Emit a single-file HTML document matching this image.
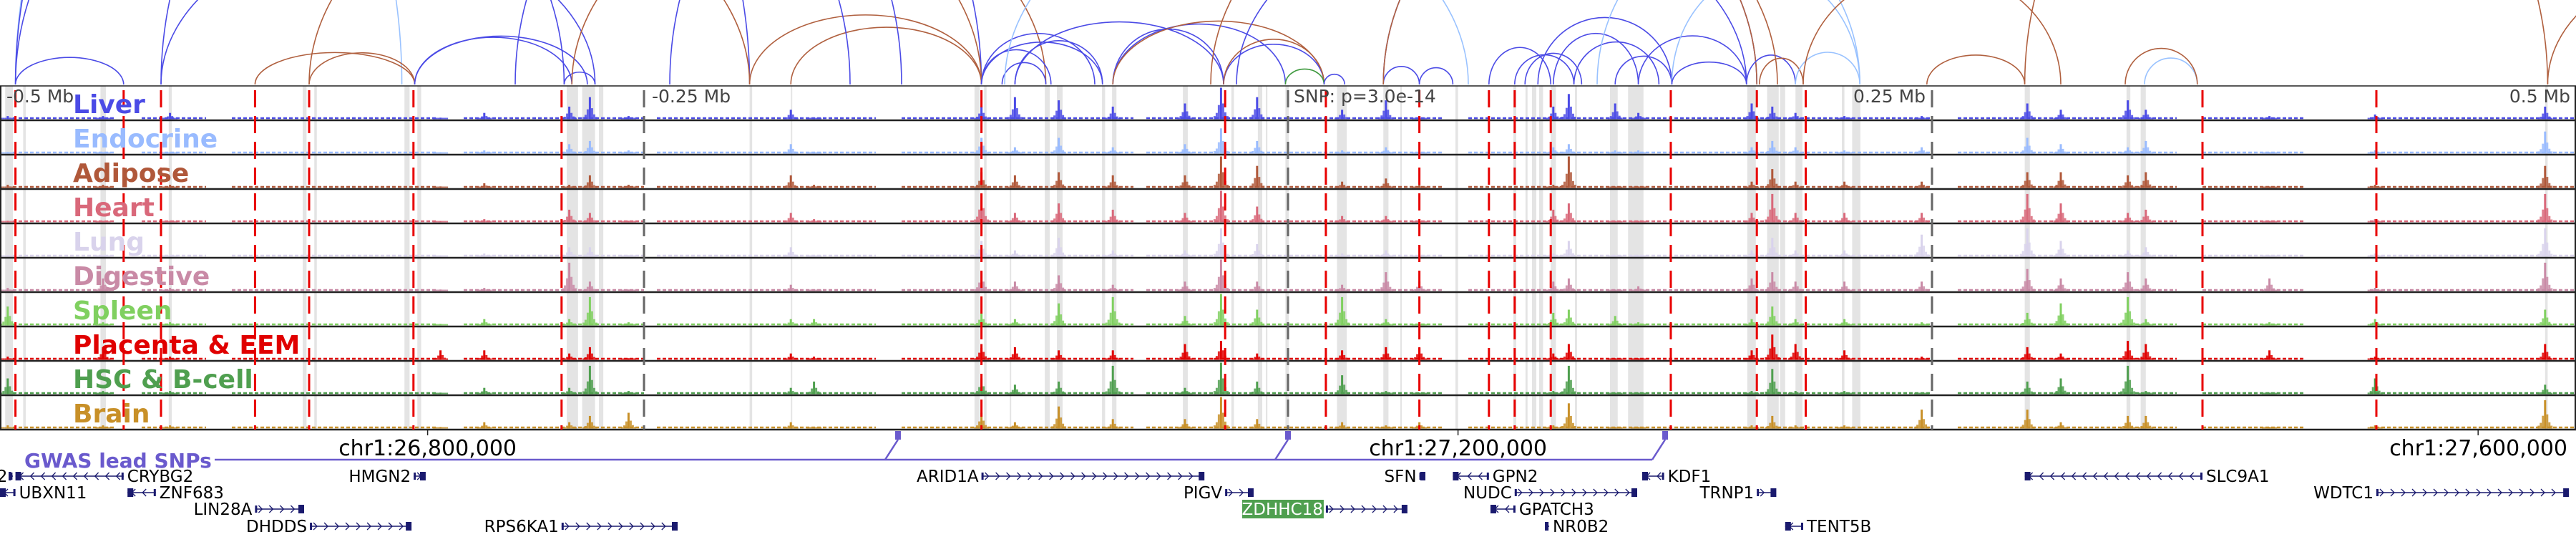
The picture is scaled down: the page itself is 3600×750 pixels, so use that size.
<!DOCTYPE html>
<html><head><meta charset="utf-8">
<style>
html,body{margin:0;padding:0;background:#fff;}
svg{display:block;}
text{font-family:"DejaVu Sans","Liberation Sans",sans-serif;}
</style></head>
<body>
<svg id="fig" width="3600" height="750" viewBox="0 0 3600 750" xmlns="http://www.w3.org/2000/svg">
<g id="bands"></g>
<g id="arcs"></g>
<g id="tracks"></g>
<g id="vlines"></g>
<g id="labels"></g>
<g id="axis"></g>
<g id="genes"></g>
</svg>
<script>
// ---- data (positions in kb relative to lead SNP) ----
const tissues = ["Liver","Endocrine","Adipose","Heart","Lung","Digestive","Spleen","Placenta & EEM","HSC & B-cell","Brain"];
const tissueColors = ["#4b4be6","#99bbff","#b0583a","#d9687a","#d9d3ec","#c98aa6","#80d060","#e00000","#4f9f4f","#c89028"];
const peakPos = [-497,-460,-434,-329,-312,-279,-271,-256,-193,-184,-119,-106,-89,-68,-40,-26,-12,21,38,51,103,109,127,136,180,188,197,216,246,287,300,326,333,381,422,488];
const peakVals = [
 [0.1,0.05,0.1,0.05,0.05,0.1,0.6,0.1,0.5,0.1],
 [0.1,0.05,0.1,0.05,0.05,0.4,0.1,0.4,0.1,0.1],
 [0.2,0.05,0.1,0.05,0.05,0.1,0.1,0.1,0.1,0.1],
 [0.05,0.02,0.05,0.02,0.02,0.05,0.05,0.3,0.05,0.05],
 [0.2,0.1,0.15,0.1,0.1,0.1,0.2,0.3,0.2,0.2],
 [0.4,0.3,0.1,0.4,0.3,0.9,0.2,0.2,0.2,0.2],
 [0.7,0.4,0.4,0.3,0.3,0.3,0.9,0.4,0.9,0.4],
 [0.1,0.1,0.1,0.05,0.05,0.05,0.1,0.05,0.1,0.5],
 [0.3,0.3,0.4,0.3,0.3,0.2,0.2,0.2,0.2,0.2],
 [0.02,0.02,0.1,0.1,0.02,0.05,0.2,0.1,0.4,0.05],
 [0.4,0.5,0.5,0.9,0.5,0.6,0.4,0.5,0.5,0.5],
 [0.7,0.2,0.4,0.3,0.2,0.3,0.2,0.4,0.3,0.2],
 [0.6,0.5,0.5,0.6,0.6,0.5,0.7,0.3,0.4,0.7],
 [0.4,0.2,0.4,0.4,0.2,0.2,0.9,0.3,0.9,0.3],
 [0.5,0.3,0.4,0.3,0.2,0.3,0.3,0.5,0.2,0.3],
 [1.0,0.8,1.0,1.0,0.9,1.0,1.0,0.6,1.0,1.0],
 [0.7,0.4,0.7,0.5,0.4,0.3,0.5,0.2,0.4,0.3],
 [0.3,0.1,0.2,0.2,0.1,0.2,0.9,0.3,0.6,0.2],
 [0.6,0.2,0.3,0.2,0.2,0.6,0.2,0.4,0.1,0.1],
 [0.1,0.05,0.1,0.05,0.05,0.3,0.05,0.4,0.05,0.2],
 [0.4,0.2,0.1,0.4,0.1,0.3,0.4,0.2,0.1,0.1],
 [0.8,0.3,1.0,0.6,0.5,0.4,0.5,0.5,0.9,0.8],
 [0.5,0.1,0.05,0.05,0.05,0.05,0.3,0.05,0.05,0.05],
 [0.2,0.1,0.05,0.05,0.05,0.15,0.1,0.05,0.05,0.05],
 [0.5,0.2,0.2,0.3,0.2,0.4,0.2,0.3,0.1,0.1],
 [0.4,0.4,0.6,0.9,0.6,0.6,0.6,0.8,0.8,0.4],
 [0.2,0.2,0.2,0.3,0.2,0.3,0.2,0.5,0.1,0.1],
 [0.1,0.1,0.2,0.3,0.2,0.3,0.2,0.3,0.1,0.1],
 [0.1,0.2,0.2,0.3,0.7,0.3,0.1,0.1,0.05,0.6],
 [0.5,0.5,0.5,0.9,0.9,0.7,0.4,0.4,0.4,0.6],
 [0.3,0.3,0.5,0.6,0.5,0.4,0.7,0.2,0.5,0.2],
 [0.6,0.2,0.4,0.3,0.2,0.6,0.9,0.6,0.9,0.4],
 [0.3,0.4,0.5,0.4,0.3,0.4,0.2,0.5,0.1,0.4],
 [0.1,0.05,0.05,0.05,0.05,0.4,0.1,0.3,0.05,0.05],
 [0.15,0.1,0.1,0.1,0.1,0.1,0.2,0.1,0.5,0.1],
 [0.4,0.7,0.7,0.9,0.9,0.9,0.5,0.5,0.3,0.9]
];
const bgStart = [-495,-445,-410,-320,-245,-150,-55,70,260,355,420];
const bgEnd   = [-455,-420,-330,-250,-160,-60,60,250,345,395,500];
const redLines = [-494,-452,-437.5,-401,-380,-339.5,-282,-119,-24.4,14.7,51,78,88,102,148.6,182,201,355,422.5];
const grayLines = [-250,0,250];
const bandStart = [-498,-491,-461,-434.5,-382.5,-378,-343,-338,-280,-274,-267.5,-209,-193,-121.7,-118,-108,-94.4,-89.7,-72.2,-68.3,-40.8,-22,-11.7,-1,-8.6,19,37,43.6,65,87.5,92.2,94.7,97.5,102,111.4,125,132,178.3,186,191,197,215,219,286,325.5,331,488];
const bandEnd   = [-495,-490,-458.9,-433.3,-381,-377,-341,-336.5,-275.6,-269,-265.8,-208,-192.5,-119.7,-117,-107.5,-92.5,-87.5,-71,-66.6,-38.9,-21,-10,0.3,-8,22.8,39,44.2,66,88.6,93,96.4,99,104,112.2,128,138,181.6,190.5,193,199.7,216,222.2,288,327,333,489];
const tickPos = [-334,66,462];
const tickLabels = ["chr1:26,800,000","chr1:27,200,000","chr1:27,600,000"];
const gwasPos = [-151.4,0,146.4];
const arcStart = [-494,-494,-494,-494,-437.5,-437.5,-401,-380,-380,-339,-339,-281,-278,-209,-193,-520,-119,-119,-119,-111,-106,-106,-68,-68,-68,-25,-25,-1,14,37,37,37,51,78,88,92,97,103,111,127,136,149,149,178,183,197,120,200,-30,-20,286,248,332.5,325,489,-300,-240,-110];
const arcEnd   = [-452,-281,-344,-209,-269,-119,-339,-339,-119,-278,-272,-269,-94,-119,-119,-209,-92,-75,-72,-94,-72,-25,-25,-1,14,14,14,14,22,51,182,182,64,102,111,114,149,136,144,149,178,222,178,197,200,222,222,300,190,178,489,286,353,353,600,-170,-150,70];
const arcColor = ["B","B","L","B","B","B","R","R","R","B","B","B","R","R","R","R","B","B","B","B","B","B","B","B","R","B","R","G","B","B","B","R","B","B","B","B","B","B","B","B","B","L","B","B","R","L","L","R","R","B","R","R","L","R","R","B","B","L"];
const arcScore = [0.25,0.5,0.9,0.6,0.35,0.5,0.2,0.3,0.35,0.3,0.28,0.4,0.4,0.3,0.3,0.3,0.5,0.45,0.35,0.5,0.5,0.3,0.5,0.35,0.3,0.4,0.45,0.4,0.5,0.5,0.55,0.55,0.5,0.6,0.5,0.55,0.5,0.6,0.5,0.5,0.45,0.6,0.3,0.6,0.6,0.5,0.6,0.45,0.4,0.35,0.6,0.3,0.5,0.5,0.4,0.7,0.9,0.4];
const geneNames = ["CD52","CRYBG2","HMGN2","ARID1A","SFN","GPN2","KDF1","SLC9A1","UBXN11","ZNF683","PIGV","NUDC","TRNP1","WDTC1","LIN28A","ZDHHC18","GPATCH3","DHDDS","RPS6KA1","NR0B2","TENT5B"];
const geneStart = [-496,-494,-339.4,-119,51,64,137.5,286,-500,-450.5,-24.4,88,182,422.5,-401,14.7,78.6,-379.7,-282,100,193];
const geneEnd   = [-495,-452,-335.3,-33,53,78,146,355,-494,-439.5,-13.9,135,189,496.7,-382.5,45.8,88.3,-340.8,-237.5,101.4,200];
const geneRow   = [0,0,0,0,0,0,0,0,1,1,1,1,1,1,2,2,2,3,3,3,3];
const geneStrand= [1,-1,1,1,1,-1,-1,-1,-1,-1,1,1,1,1,1,1,-1,1,1,1,-1];
const geneLabelSide = ["L","R","L","L","L","R","R","R","R","R","L","L","L","L","L","L","R","L","L","R","R"];

// ---- layout ----
const NS="http://www.w3.org/2000/svg";
const X = kb => (kb+500)*3.6;
const TOP=120, TH=48, NT=10, BOT=TOP+TH*NT;
function mk(tag, attrs, parent){const e=document.createElementNS(NS,tag);for(const k in attrs)e.setAttribute(k,attrs[k]);parent.appendChild(e);return e;}
const gB=document.getElementById('bands'), gA=document.getElementById('arcs'), gT=document.getElementById('tracks'),
      gV=document.getElementById('vlines'), gL=document.getElementById('labels'), gX=document.getElementById('axis'), gG=document.getElementById('genes');

bandStart.forEach((s,i)=>{
  const r=mk('rect',{x:X(s),y:TOP,width:Math.max(2,X(bandEnd[i])-X(s)),height:BOT-TOP,fill:'#e4e4e4'},gB);
  
  
});

const arcCols={B:'#4b4be6',L:'#99c2ff',R:'#b0603f',G:'#3f9a3f'};
const clip=mk('clipPath',{id:'arcclip'},mk('defs',{},gA));
mk('rect',{x:0,y:0,width:3600,height:TOP-1},clip);
const arcG=mk('g',{'clip-path':'url(#arcclip)'},gA);
arcStart.forEach((s,i)=>{
  const x1=X(s), x2=X(arcEnd[i]); const rx=(x2-x1)/2, ry=(x2-x1)*arcScore[i];
  const p=mk('path',{d:`M${x1},${TOP-2} A${rx},${ry} 0 0 1 ${x2},${TOP-2}`,fill:'none',stroke:arcCols[arcColor[i]],'stroke-width':1.6},arcG);
  
  
});

const maxH=44;
tissues.forEach((t,ti)=>{
  const base=TOP+TH*(ti+1)-1.5;
  const g=mk('g',{fill:tissueColors[ti]},gT);
  
  
  bgStart.forEach((s,i)=>{
    mk('line',{x1:X(s),x2:X(bgEnd[i]),y1:base-1.5,y2:base-1.5,stroke:tissueColors[ti],'stroke-width':2.5,'stroke-dasharray':'5 3'},g);
  });
  peakPos.forEach((p,pi)=>{
    const v=peakVals[pi][ti], cx=X(p);
    [[0,1],[-3,0.45],[3,0.5],[-6,0.2],[6,0.22],[-9,0.1],[9,0.1]].forEach(([dx,f])=>{
      const h=Math.max(2,Math.min(maxH,v*f*maxH));
      const b=mk('rect',{x:cx+dx-1.5,y:base-h,width:3,height:h,opacity:dx===0?1:0.85},g);
      
      
    });
  });
});
for(let i=0;i<=NT;i++){mk('line',{x1:0,x2:3600,y1:TOP+TH*i,y2:TOP+TH*i,stroke:'#222','stroke-width':i===0?1.5:2.5},gT);}
mk('line',{x1:1,x2:1,y1:TOP,y2:BOT,stroke:'#222','stroke-width':2},gT);
mk('line',{x1:3599,x2:3599,y1:TOP,y2:BOT,stroke:'#222','stroke-width':2},gT);

redLines.forEach(k=>{
  const l=mk('line',{x1:X(k),x2:X(k),y1:TOP,y2:BOT,stroke:'#e80000','stroke-width':3,'stroke-dasharray':'24 12','stroke-dashoffset':-6},gV);
  
  
});
grayLines.forEach(k=>{
  const l=mk('line',{x1:X(k),x2:X(k),y1:TOP,y2:BOT,stroke:'#666','stroke-width':3,'stroke-dasharray':'24 12','stroke-dashoffset':-6},gV);
  
  
});

[["-0.5 Mb",9,"start"],["-0.25 Mb",911,"start"],["SNP: p=3.0e-14",1808,"start"],["0.25 Mb",2590,"start"],["0.5 Mb",3592,"end"]].forEach(([s,x,a])=>{
  const t=mk('text',{x:x,y:143,'font-size':25,fill:'#444','text-anchor':a},gL);t.textContent=s;
  
  
});
tissues.forEach((t,ti)=>{
  const e=mk('text',{x:102,y:TOP+TH*ti+38,'font-size':36,'font-weight':'bold',fill:tissueColors[ti]},gL);
  e.textContent=t;
  
  
});

tickPos.forEach((k,i)=>{
  mk('line',{x1:X(k),x2:X(k),y1:BOT,y2:BOT+8,stroke:'#222','stroke-width':1.5},gX);
  const last=i===tickPos.length-1;
  const t=mk('text',{x:last?3588:X(k),y:636,'font-size':30,'text-anchor':last?'end':'middle',fill:'#000'},gX);
  t.textContent=tickLabels[i];
  
  
});
const gw=mk('text',{x:34,y:653,'font-size':28,'font-weight':'bold',fill:'#6a5acd'},gX);gw.textContent='GWAS lead SNPs';


mk('line',{x1:300,x2:X(gwasPos[2])-18,y1:642,y2:642,stroke:'#6a5acd','stroke-width':2.5},gX);
gwasPos.forEach(k=>{
  const x=X(k);
  mk('rect',{x:x-4,y:BOT+2,width:8,height:12,fill:'#6a5acd'},gX);
  mk('line',{x1:x,y1:BOT+14,x2:x-18,y2:642,stroke:'#6a5acd','stroke-width':2.5},gX);
});

const rowY=[665,688,711,735];
geneNames.forEach((n,i)=>{
  const x1=X(geneStart[i]), x2=X(geneEnd[i]), y=rowY[geneRow[i]];
  const g=mk('g',{},gG);
  
  
  mk('line',{x1:x1,x2:x2,y1:y,y2:y,stroke:'#1a1a6e','stroke-width':1.5},g);
  for(let x=x1+8;x<x2-6;x+=15){
    const d=geneStrand[i]>0?`M${x-3},${y-5} L${x+2},${y} L${x-3},${y+5}`:`M${x+3},${y-5} L${x-2},${y} L${x+3},${y+5}`;
    mk('path',{d:d,fill:'none',stroke:'#1a1a6e','stroke-width':1.3},g);
  }
  const ex=geneStrand[i]>0?x2-6:x1;
  mk('rect',{x:ex,y:y-6,width:Math.min(8,Math.max(3,x2-x1)),height:12,fill:'#1a1a6e'},g);
  mk('rect',{x:geneStrand[i]>0?x1:x2-3,y:y-5,width:3,height:10,fill:'#1a1a6e'},g);
  const left=geneLabelSide[i]==='L';
  if(n==='ZDHHC18'){
    mk('rect',{x:x1-117,y:y-13,width:114,height:26,fill:'#4f9f4f'},g);
  }
  const t=mk('text',{x:left?x1-4:x2+5,y:y+8,'font-size':23,'text-anchor':left?'end':'start',fill:n==='ZDHHC18'?'#fff':'#000'},g);
  t.textContent=n;
});
</script>
</body></html>
